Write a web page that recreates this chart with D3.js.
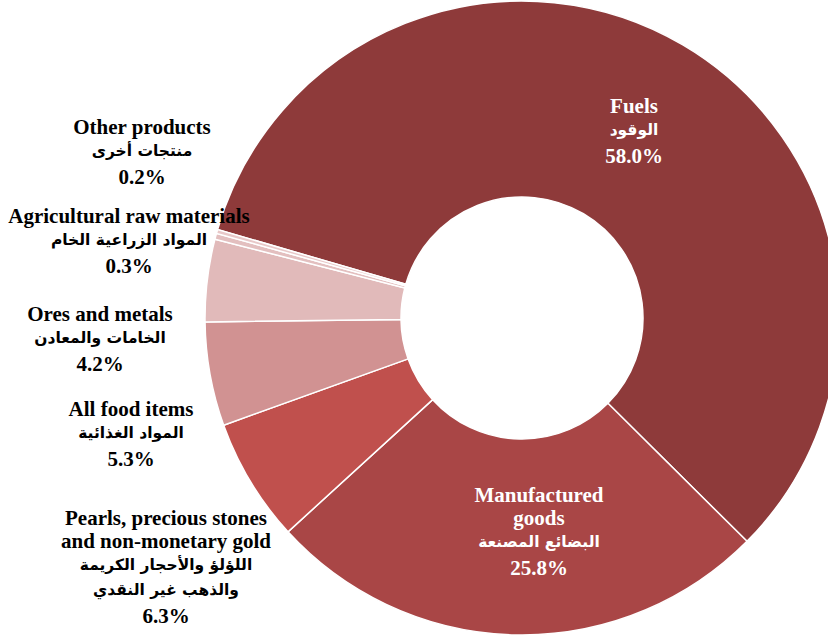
<!DOCTYPE html>
<html>
<head>
<meta charset="utf-8">
<script src="https://cdn.jsdelivr.net/npm/d3@7"></script>
<style>
    body { margin: 0; background: #fff; }
    svg { display: block; }
    .lbl { font-family: "Liberation Serif", "Times New Roman", serif; font-weight: bold; }
    .ar { font-family: "DejaVu Sans", sans-serif; font-weight: bold; }
</style>
</head>
<body>
<div id="chart"></div>
<script>
(function (d3) {
    'use strict';

    // Data
    var categories = ['Fuels', 'Manufactured goods', 'Pearls, precious stones and non-monetary gold',
        'All food items', 'Ores and metals', 'Agricultural raw materials', 'Other products'];
    var values = [58.0, 25.8, 6.3, 5.3, 4.2, 0.3, 0.2];
    var englishLines = [
        ['Fuels'],
        ['Manufactured', 'goods'],
        ['Pearls, precious stones', 'and non-monetary gold'],
        ['All food items'],
        ['Ores and metals'],
        ['Agricultural raw materials'],
        ['Other products']
    ];
    var arabicLines = [
        ['الوقود'],
        ['البضائع المصنعة'],
        ['اللؤلؤ والأحجار الكريمة', 'والذهب غير النقدي'],
        ['المواد الغذائية'],
        ['الخامات والمعادن'],
        ['المواد الزراعية الخام'],
        ['منتجات أخرى']
    ];

    // Styles / layout
    var colors = ['#8e3a3a', '#a94646', '#c0504d', '#d19292', '#e1baba', '#e3bfbf', '#e8c8c8'];
    var width = 828, height = 637;
    var cx = 522, cy = 318;
    var outerR = 317, innerR = 121;
    var startDeg = -73.8;
    // label anchors (centre x, first baseline y) as placed in the original
    var labelPos = [[634, 113], [539, 502], [166, 525], [131, 416], [100, 321], [129, 223], [142, 134]];
    var lineGap = 23;

    var svg = d3.select('#chart').append('svg')
        .attr('width', width)
        .attr('height', height)
    ;

    var pie = d3.pie()
        .sort(null)
        .value(function (d) { return d; })
        .startAngle(startDeg / 180 * Math.PI)
        .endAngle(startDeg / 180 * Math.PI + 2 * Math.PI)
    ;

    var arc = d3.arc().innerRadius(innerR).outerRadius(outerR);

    svg.append('g')
        .attr('transform', translate(cx, cy))
        .selectAll('path')
        .data(pie(values))
        .join('path')
        .attr('d', arc)
        .attr('fill', function (d, i) { return colors[i]; })
        .attr('stroke', '#fff')
        .attr('stroke-width', 1.5)
    ;

    var labels = svg.append('g')
        .selectAll('text')
        .data(categories)
        .join('text')
        .attr('class', 'lbl')
        .attr('text-anchor', 'middle')
        .attr('fill', function (d, i) { return i < 2 ? '#fff' : '#000'; })
    ;

    labels.each(function (name, i) {
        var t = d3.select(this);
        var x = labelPos[i][0];
        var y = labelPos[i][1];
        englishLines[i].forEach(function (line) {
            t.append('tspan').attr('x', x).attr('y', y).attr('font-size', 21).text(line);
            y += lineGap;
        });
        arabicLines[i].forEach(function (line) {
            t.append('tspan').attr('class', 'ar').attr('x', x).attr('y', y - 1)
                .attr('font-size', 15.5).attr('direction', 'rtl').text(line);
            y += lineGap + 2;
        });
        y += 2;
        t.append('tspan').attr('x', x).attr('y', y).attr('font-size', 21)
            .text(values[i].toFixed(1) + '%');
    });

    function translate(x, y) {
        return 'translate(' + x + ', ' + y + ')';
    }

})(d3);
</script>
</body>
</html>
